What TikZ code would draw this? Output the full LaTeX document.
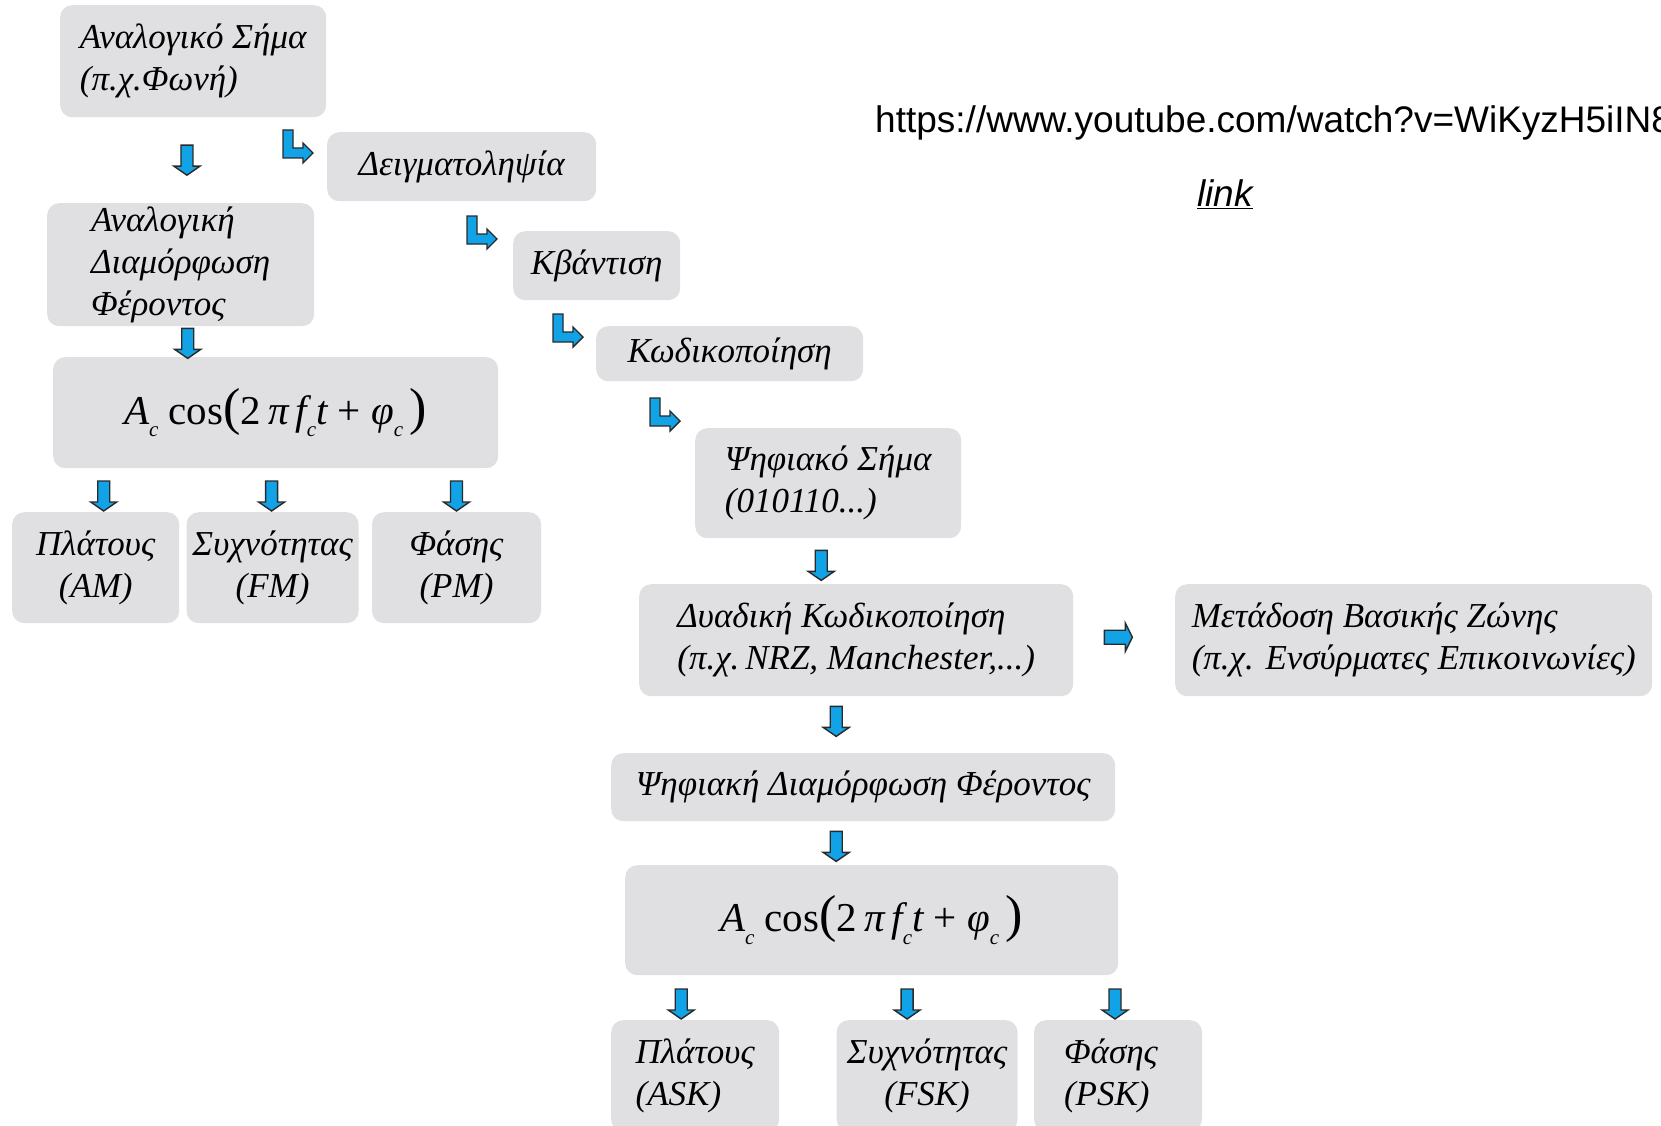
\documentclass[tikz,border=0pt]{standalone}
\usepackage{fontspec}
\setmainfont{Liberation Serif}
\newfontfamily\linkfont{Liberation Sans}
\usetikzlibrary{positioning,calc}
\definecolor{boxgray}{HTML}{E0E0E2}
\definecolor{arrblue}{HTML}{12A2E6}
\definecolor{arredge}{HTML}{2A2A2A}

% carrier formula, set in text fonts
\newcommand{\subc}{\raisebox{-0.3em}{\fontsize{21}{21}\selectfont\itshape c}}
\newcommand{\bigpar}[1]{{\fontsize{52}{52}\selectfont #1}}
\newcommand{\carrier}{{\itshape A}\subc\ cos\bigpar{(}2\,{\itshape π\,f}\subc{\itshape t}\ +\ {\itshape φ}\subc\,\bigpar{)}}

\tikzset{
  box/.style={fill=boxgray, rounded corners=12pt, inner sep=0pt, anchor=north west,
    align=left, font=\fontsize{35}{42}\selectfont\itshape},
  sz/.style 2 args={minimum width=#1pt, minimum height=#2pt},
  formula/.style={box, font=\fontsize{41}{48}\selectfont\upshape},
  blockarr/.style={fill=arrblue, draw=arredge, line width=1.4pt, line join=miter},
  linktext/.style={inner sep=0pt, anchor=base west, font=\fontsize{37}{44}\selectfont\linkfont},
  dnarr/.pic={\draw[blockarr] (-6,-15) -- (6,-15) -- (6,6) -- (13,6) -- (0,15) -- (-13,6) -- (-6,6) -- cycle;},
  rtarr/.pic={\draw[blockarr] (-14,-7) -- (7,-7) -- (7,-14) -- (14,0) -- (7,14) -- (7,7) -- (-14,7) -- cycle;},
  hookarr/.pic={\draw[blockarr] (0,0) -- (10,0) -- (10,18) -- (20,18) -- (20,13) -- (30,23) -- (20,33) -- (20,28) -- (0,28) -- cycle;}
}

\begin{document}
\begin{tikzpicture}[x=1pt, y=-1pt]
  \useasboundingbox (0,0) rectangle (1661,1126);

  % analog branch
  \node[box, sz={266}{112}] (anasig) at (60,5) {Αναλογικό Σήμα\\(π.χ.Φωνή)};
  \node[box, sz={267}{123}] (anamod) at (47,203) {Αναλογική\\Διαμόρφωση\\Φέροντος};
  \node[formula, sz={445}{111}] (form1) at (53,357) {\carrier};
  \node[box, sz={167}{111}, align=center] (am) at (12,512) {Πλάτους\\(AM)};
  \node[box, sz={172}{111}, align=center, right=7pt of am.north east, anchor=north west] (fm) {Συχνότητας\\(FM)};
  \node[box, sz={169}{111}, align=center, right=13pt of fm.north east, anchor=north west] (pm) {Φάσης\\(PM)};

  % digital branch
  \node[box, sz={269}{69}] (deigma) at (327,132) {Δειγματοληψία};
  \node[box, sz={167}{69}] (kvant) at (513,231) {Κβάντιση};
  \node[box, sz={267}{55}] (kodik) at (596,326) {\raisebox{3pt}{Κωδικοποίηση}};
  \node[box, sz={266}{110}] (psisig) at (695,428) {Ψηφιακό Σήμα\\(010110...)};
  \node[box, sz={434}{112}] (dyad) at (639,584) {Δυαδική Κωδικοποίηση\\(π.χ.\,NRZ, Manchester,...)};
  \node[box, sz={477}{112}] (baseband) at (1175,584) {Μετάδοση Βασικής Ζώνης\\(π.χ. Ενσύρματες Επικοινωνίες)};
  \node[box, sz={504}{68}] (psimod) at (611,753) {Ψηφιακή Διαμόρφωση Φέροντος};
  \node[formula, sz={493}{110}] (form2) at (625,865) {\carrier};
  \node[box, sz={168}{111}] (ask) at (611,1020) {Πλάτους\\(ASK)};
  \node[box, sz={181}{111}, align=center, right=57pt of ask.north east, anchor=north west] (fsk) {Συχνότητας\\(FSK)};
  \node[box, sz={168}{111}, right=16pt of fsk.north east, anchor=north west, text width=108pt] (psk) {Φάσης\\(PSK)};

  % link
  \node[linktext] (url) at (875,133) {https://www.youtube.com/watch?v=WiKyzH5iIN8};
  \node[linktext, font=\fontsize{37}{44}\selectfont\linkfont\itshape] (link) at (1197,207) {\underline{link}};

  % arrows
  \pic at ($(anasig.south)!.5!(anamod.north)$) {dnarr};
  \pic at ([shift={(7,17)}]anamod.south) {dnarr};
  \pic at ([shift={(8,-16)}]am.north) {dnarr};
  \pic at ([shift={(-1,-16)}]fm.north) {dnarr};
  \pic at ([shift={(0,-16)}]pm.north) {dnarr};
  \pic at ([shift={(-44,-2)}]deigma.north west) {hookarr};
  \pic at ([shift={(-46,-15)}]kvant.north west) {hookarr};
  \pic at ([shift={(-43,-12)}]kodik.north west) {hookarr};
  \pic at ([shift={(-45,-30)}]psisig.north west) {hookarr};
  \pic at ([shift={(-7,27)}]psisig.south) {dnarr};
  \pic at ([shift={(45,-3)}]dyad.east) {rtarr};
  \pic at ([shift={(-20,25)}]dyad.south) {dnarr};
  \pic at ([shift={(-27,25)}]psimod.south) {dnarr};
  \pic at ([shift={(-14,-16)}]ask.north) {dnarr};
  \pic at ([shift={(-20,-16)}]fsk.north) {dnarr};
  \pic at ([shift={(-3,-16)}]psk.north) {dnarr};
\end{tikzpicture}
\end{document}
